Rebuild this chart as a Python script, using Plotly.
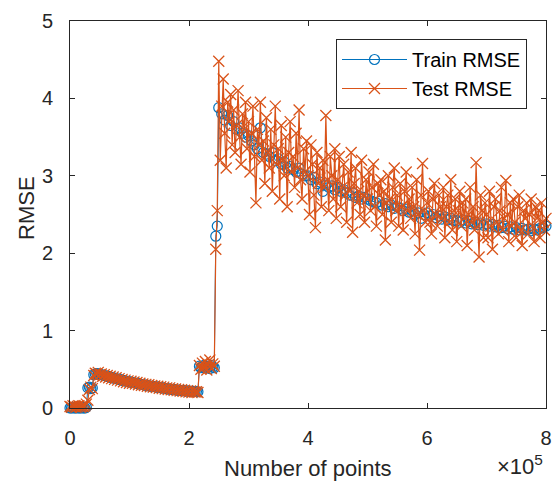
import plotly.graph_objects as go

# ---------------- data ----------------
x_low = list(range(0, 245000, 2500))  # 0 .. 242500, 98 samples

train_low = [0.00, 0.00, 0.01, 0.00, 0.00, 0.01, 0.00, 0.00, 0.01, 0.00, 0.00, 0.01,
             0.26, 0.27, 0.25, 0.26,
             0.43, 0.44, 0.445, 0.44, 0.435, 0.43, 0.425, 0.42, 0.415, 0.41,
             0.405, 0.40, 0.395, 0.39, 0.385, 0.38, 0.375, 0.37, 0.365, 0.36,
             0.355, 0.35, 0.346, 0.342, 0.338, 0.334, 0.33, 0.326, 0.322, 0.318,
             0.314, 0.31, 0.306, 0.302, 0.298, 0.294, 0.29, 0.287, 0.284, 0.281,
             0.278, 0.275, 0.272, 0.269, 0.266, 0.263, 0.26, 0.257, 0.254, 0.251,
             0.248, 0.245, 0.242, 0.24, 0.237, 0.235, 0.232, 0.23, 0.228, 0.226,
             0.224, 0.222, 0.22, 0.219, 0.218, 0.216, 0.215, 0.214, 0.213, 0.212,
             0.21,
             0.54, 0.52, 0.53, 0.55, 0.52, 0.54, 0.53, 0.51, 0.55, 0.53, 0.52]

test_low = [0.02, 0.01, 0.03, 0.02, 0.01, 0.02, 0.03, 0.01, 0.02, 0.02, 0.03, 0.05,
            0.10, 0.24, 0.27, 0.25,
            0.42, 0.45, 0.44, 0.46, 0.43, 0.44, 0.41, 0.43, 0.40, 0.42,
            0.39, 0.41, 0.38, 0.40, 0.37, 0.39, 0.36, 0.38, 0.35, 0.37,
            0.34, 0.36, 0.33, 0.35, 0.32, 0.345, 0.32, 0.335, 0.31, 0.33,
            0.30, 0.32, 0.295, 0.31, 0.29, 0.305, 0.28, 0.30, 0.275, 0.29,
            0.27, 0.285, 0.265, 0.28, 0.255, 0.275, 0.25, 0.27, 0.245, 0.26,
            0.24, 0.26, 0.235, 0.25, 0.23, 0.245, 0.225, 0.24, 0.22, 0.235,
            0.215, 0.23, 0.21, 0.225, 0.205, 0.22, 0.20, 0.215, 0.205, 0.21,
            0.20,
            0.55, 0.50, 0.58, 0.52, 0.60, 0.49, 0.56, 0.62, 0.51, 0.57, 0.54]

x_jump = [245000, 247500]
train_jump = [2.22, 2.35]
test_jump = [2.05, 2.55]

x_high_train = list(range(250000, 805000, 5000))  # 111 samples
train_high = [3.88, 3.80, 3.72, 3.78, 3.65, 3.70, 3.60, 3.62, 3.55, 3.50,
              3.52, 3.45, 3.40, 3.35, 3.62, 3.30, 3.28, 3.25, 3.30, 3.20,
              3.22, 3.15, 3.18, 3.10, 3.12, 3.08, 3.05, 3.10, 3.02, 3.00,
              3.00, 2.95, 2.98, 2.90, 2.92, 2.80, 2.88, 2.85, 2.87, 2.82,
              2.85, 2.80, 2.82, 2.78, 2.75, 2.78, 2.72, 2.74, 2.70, 2.72,
              2.70, 2.68, 2.66, 2.65, 2.67, 2.62, 2.64, 2.60, 2.62, 2.58,
              2.60, 2.58, 2.55, 2.57, 2.53, 2.55, 2.50, 2.52, 2.45, 2.50,
              2.52, 2.48, 2.50, 2.46, 2.48, 2.44, 2.47, 2.43, 2.45, 2.42,
              2.42, 2.40, 2.43, 2.39, 2.41, 2.38, 2.40, 2.37, 2.39, 2.36,
              2.38, 2.35, 2.37, 2.34, 2.36, 2.33, 2.35, 2.32, 2.34, 2.31,
              2.33, 2.30, 2.32, 2.30, 2.31, 2.29, 2.31, 2.30, 2.32, 2.33,
              2.35]

x_high_test = list(range(250000, 802500, 2500))  # 221 samples
test_high = [4.48, 3.20, 3.90, 4.25, 3.55, 3.10, 3.95, 3.70, 4.05, 3.40,
             3.85, 3.30, 3.65, 4.10, 3.50, 3.15, 3.80, 3.60, 3.95, 3.35,
             3.70, 3.05, 3.55, 3.90, 3.25, 2.65, 3.60, 3.40, 3.95, 3.20,
             3.45, 2.90, 3.75, 3.30, 3.10, 3.60, 2.80, 3.40, 3.90, 3.15,
             3.35, 2.70, 3.65, 3.20, 3.00, 3.50, 2.60, 3.30, 3.70, 3.05,
             3.25, 2.85, 3.55, 3.10, 3.85, 2.95, 2.70, 3.35, 3.05, 3.45,
             3.00, 2.50, 3.40, 3.15, 2.75, 2.33, 3.30, 2.90, 3.10, 2.60,
             3.20, 2.85, 3.78, 2.95, 2.55, 3.25, 3.00, 2.70, 3.35, 2.45,
             2.95, 3.25, 2.60, 2.85, 3.15, 2.75, 2.40, 3.05, 2.80, 3.30,
             2.27, 2.90, 3.10, 2.65, 2.80, 2.50, 3.20, 2.75, 2.40, 2.95,
             2.70, 3.05, 2.55, 2.85, 3.15, 2.60, 2.35, 2.90, 2.75, 2.95,
             2.50, 2.80, 2.17, 2.65, 3.00, 2.70, 2.40, 2.85, 3.10, 2.55,
             2.75, 2.35, 2.90, 2.60, 2.30, 2.80, 3.05, 2.55, 2.70, 2.45,
             2.85, 2.60, 2.25, 2.95, 2.50, 2.04, 2.75, 3.16, 2.55, 2.40,
             2.65, 2.80, 2.40, 2.25, 2.70, 2.90, 2.50, 2.35, 2.75, 2.60,
             2.45, 2.85, 2.20, 2.60, 2.75, 2.40, 2.95, 2.30, 2.55, 2.70,
             2.15, 2.55, 2.80, 2.35, 2.65, 2.45, 2.70, 2.10, 2.50, 2.85,
             2.40, 2.60, 2.30, 3.17, 2.45, 1.95, 2.75, 2.55, 2.20, 2.65,
             2.50, 2.20, 2.80, 2.35, 2.05, 2.60, 2.70, 2.40, 2.25, 2.55,
             2.85, 2.30, 2.45, 2.94, 2.50, 2.15, 2.65, 2.35, 2.70, 2.40,
             2.20, 2.60, 2.75, 2.30, 2.10, 2.55, 2.45, 2.65, 2.25, 2.50,
             2.70, 2.35, 2.15, 2.60, 2.45, 2.55, 2.20, 2.65, 2.40, 2.30,
             2.45]

x_ticks = [0, 200000, 400000, 600000, 800000]
x_tick_labels = ["0", "2", "4", "6", "8"]
y_ticks = [0, 1, 2, 3, 4, 5]

train_x = x_low + x_jump + x_high_train
train_y = train_low + train_jump + train_high
test_x = x_low + x_jump + x_high_test
test_y = test_low + test_jump + test_high

# ---------------- figure ----------------
BLUE = "#0072BD"
ORANGE = "#D95319"
AX = "#262626"
FONT = "Liberation Sans, Arial, Helvetica, sans-serif"

fig = go.Figure()
fig.add_trace(go.Scatter(
    x=train_x, y=train_y, mode="lines+markers", name="Train RMSE",
    line=dict(color=BLUE, width=1),
    marker=dict(symbol="circle-open", size=10, color=BLUE, line=dict(width=1.2, color=BLUE)),
    cliponaxis=False,
))
fig.add_trace(go.Scatter(
    x=test_x, y=test_y, mode="lines+markers", name="Test RMSE",
    line=dict(color=ORANGE, width=1.2),
    marker=dict(symbol="x-thin-open", size=11, color=ORANGE, line=dict(width=1.3, color=ORANGE)),
    cliponaxis=False,
))

L, R, T, B = 70, 7, 21, 74
W, H = 553, 482
pw = W - L - R
ph = H - T - B

fig.update_layout(
    width=W, height=H, autosize=False,
    margin=dict(l=L, r=R, t=T, b=B, pad=0, autoexpand=False),
    paper_bgcolor="white", plot_bgcolor="white",
    font=dict(family=FONT, size=20, color=AX),
    showlegend=True,
    legend=dict(
        x=(527 - L) / pw, y=(H - B - 39) / ph, xanchor="right", yanchor="top",
        bordercolor=AX, borderwidth=1, bgcolor="white",
        font=dict(family=FONT, size=20, color="#000000"),
        itemwidth=65, tracegroupgap=0,
    ),
    xaxis=dict(
        range=[0, 800000], tickmode="array", tickvals=x_ticks, ticktext=x_tick_labels,
        ticks="inside", ticklen=5, tickwidth=1, tickcolor=AX,
        showline=True, linecolor=AX, linewidth=1, mirror="ticks",
        showgrid=False, zeroline=False, automargin=False,
        tickfont=dict(family=FONT, size=20, color=AX),
        ticklabelstandoff=12,
    ),
    yaxis=dict(
        range=[0, 5], tickmode="array", tickvals=y_ticks,
        ticks="inside", ticklen=5, tickwidth=1, tickcolor=AX,
        showline=True, linecolor=AX, linewidth=1, mirror="ticks",
        showgrid=False, zeroline=False, automargin=False,
        tickfont=dict(family=FONT, size=20, color=AX),
        ticklabelstandoff=12,
    ),
    annotations=[
        dict(text="Number of points", xref="paper", yref="paper",
             x=(308 - L) / pw, y=(H - B - 469) / ph, xanchor="center", yanchor="middle",
             showarrow=False, font=dict(family=FONT, size=22, color=AX)),
        dict(text="RMSE", xref="paper", yref="paper", textangle=-90,
             x=(26 - L) / pw, y=(H - B - 208) / ph, xanchor="center", yanchor="middle",
             showarrow=False, font=dict(family=FONT, size=22, color=AX)),
        dict(text="\u00d710<sup>5</sup>", xref="paper", yref="paper",
             x=(520 - L) / pw, y=(H - B - 481) / ph, xanchor="center", yanchor="bottom",
             showarrow=False, font=dict(family=FONT, size=22, color=AX)),
    ],
)

fig.write_html(
    "out.html",
    config={"displayModeBar": False},
    post_script="document.documentElement.style.overflow='hidden';document.body.style.margin='0';document.body.style.padding='0';",
)
